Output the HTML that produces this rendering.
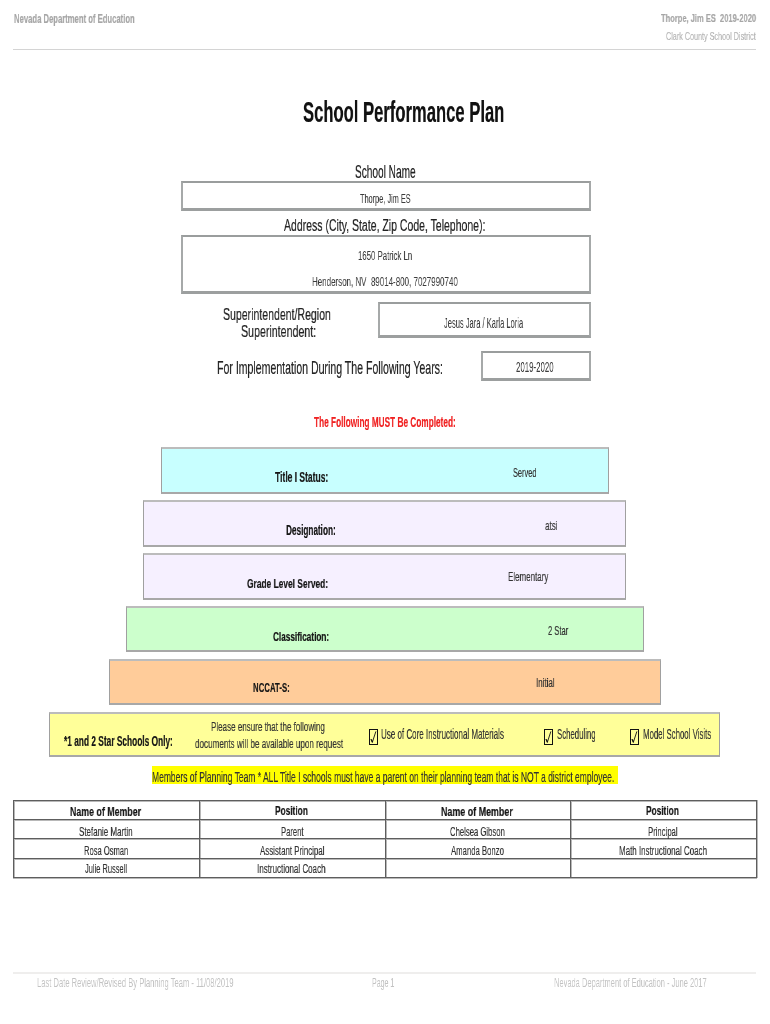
<!DOCTYPE html>
<html><head><meta charset="utf-8"><title>School Performance Plan</title><style>
*{margin:0;padding:0;box-sizing:border-box}
html,body{width:770px;height:1024px;background:#fff;overflow:hidden;position:relative}
body{font-family:"Liberation Sans",sans-serif}
.t{position:absolute;white-space:nowrap;transform-origin:0 0;line-height:normal;will-change:transform;-webkit-text-stroke:0.2px currentColor}
.b{position:absolute}
</style></head>
<body>
<div class="b" style="left:13px;top:49px;width:743px;height:1px;background:#d4d4d4"></div><div class="b" style="left:13px;top:972px;width:743px;height:2px;background:#efeeed"></div><div class="b" style="left:181px;top:181px;width:410px;height:30px;background:#fff;border:2px solid #9a9d9d;border-bottom:3px solid #9c9f9f;border-left-color:#a6a9a9;border-right-color:#a6a9a9"></div><div class="b" style="left:181px;top:235px;width:410px;height:59px;background:#fff;border:2px solid #9a9d9d;border-bottom:3px solid #9c9f9f;border-left-color:#a6a9a9;border-right-color:#a6a9a9"></div><div class="b" style="left:378px;top:302px;width:213px;height:36px;background:#fff;border:2px solid #9a9d9d;border-bottom:3px solid #9c9f9f;border-left-color:#a6a9a9;border-right-color:#a6a9a9"></div><div class="b" style="left:481px;top:351px;width:110px;height:30px;background:#fff;border:2px solid #9a9d9d;border-bottom:3px solid #9c9f9f;border-left-color:#a6a9a9;border-right-color:#a6a9a9"></div><div class="b" style="left:161px;top:447px;width:448px;height:47px;background:#c8ffff;border:1px solid #a0a0a0;border-top:2px solid #bcbcbc;border-bottom:2px solid #a8a8a8"></div><div class="b" style="left:143px;top:500px;width:483px;height:47px;background:#f6f0ff;border:1px solid #a0a0a0;border-top:2px solid #bcbcbc;border-bottom:2px solid #a8a8a8"></div><div class="b" style="left:143px;top:553px;width:483px;height:47px;background:#f6f0ff;border:1px solid #a0a0a0;border-top:2px solid #bcbcbc;border-bottom:2px solid #a8a8a8"></div><div class="b" style="left:126px;top:606px;width:518px;height:46px;background:#ccffcc;border:1px solid #a0a0a0;border-top:2px solid #bcbcbc;border-bottom:2px solid #a8a8a8"></div><div class="b" style="left:109px;top:659px;width:552px;height:46px;background:#ffcc9a;border:1px solid #a0a0a0;border-top:2px solid #bcbcbc;border-bottom:2px solid #a8a8a8"></div><div class="b" style="left:49px;top:712px;width:671px;height:45px;background:#ffff99;border:1px solid #a0a0a0;border-top:2px solid #bcbcbc;border-bottom:2px solid #a8a8a8"></div><div class="b" style="left:152px;top:766px;width:466px;height:18px;background:#ffff00"></div><div class="b" style="left:369px;top:729px;width:9px;height:16px;border:1.3px solid #111"></div><svg class="b" style="left:369px;top:729px" width="9" height="16" viewBox="0 0 9 16"><path d="M1.9 10.4 L3.3 13.4 L6.9 2.4" fill="none" stroke="#111" stroke-width="0.9"/><path d="M1.6 10.6 L2.6 10.0 L3.9 12.2 L3.4 13.8 Z" fill="#111"/></svg><div class="b" style="left:544px;top:729px;width:9px;height:16px;border:1.3px solid #111"></div><svg class="b" style="left:544px;top:729px" width="9" height="16" viewBox="0 0 9 16"><path d="M1.9 10.4 L3.3 13.4 L6.9 2.4" fill="none" stroke="#111" stroke-width="0.9"/><path d="M1.6 10.6 L2.6 10.0 L3.9 12.2 L3.4 13.8 Z" fill="#111"/></svg><div class="b" style="left:630px;top:729px;width:9px;height:16px;border:1.3px solid #111"></div><svg class="b" style="left:630px;top:729px" width="9" height="16" viewBox="0 0 9 16"><path d="M1.9 10.4 L3.3 13.4 L6.9 2.4" fill="none" stroke="#111" stroke-width="0.9"/><path d="M1.6 10.6 L2.6 10.0 L3.9 12.2 L3.4 13.8 Z" fill="#111"/></svg><div class="b" style="left:13px;top:801px;width:744px;height:1px;background:#b8b8b8"></div><div class="b" style="left:13px;top:820px;width:744px;height:1px;background:#b8b8b8"></div><div class="b" style="left:13px;top:839px;width:744px;height:1px;background:#b8b8b8"></div><div class="b" style="left:13px;top:859px;width:744px;height:1px;background:#b8b8b8"></div><div class="b" style="left:13px;top:878px;width:744px;height:1px;background:#b8b8b8"></div><div class="b" style="left:14px;top:800px;width:1px;height:78px;background:#b8b8b8"></div><div class="b" style="left:200px;top:800px;width:1px;height:78px;background:#b8b8b8"></div><div class="b" style="left:386px;top:800px;width:1px;height:78px;background:#b8b8b8"></div><div class="b" style="left:571px;top:800px;width:1px;height:78px;background:#b8b8b8"></div><div class="b" style="left:757px;top:800px;width:1px;height:78px;background:#b8b8b8"></div><div class="b" style="left:13px;top:800px;width:744px;height:1px;background:#5e5e5e"></div><div class="b" style="left:13px;top:819px;width:744px;height:1px;background:#5e5e5e"></div><div class="b" style="left:13px;top:838px;width:744px;height:1px;background:#5e5e5e"></div><div class="b" style="left:13px;top:858px;width:744px;height:1px;background:#5e5e5e"></div><div class="b" style="left:13px;top:877px;width:744px;height:1px;background:#5e5e5e"></div><div class="b" style="left:13px;top:800px;width:1px;height:78px;background:#5e5e5e"></div><div class="b" style="left:199px;top:800px;width:1px;height:78px;background:#5e5e5e"></div><div class="b" style="left:385px;top:800px;width:1px;height:78px;background:#5e5e5e"></div><div class="b" style="left:570px;top:800px;width:1px;height:78px;background:#5e5e5e"></div><div class="b" style="left:756px;top:800px;width:1px;height:78px;background:#5e5e5e"></div>
<div class="t" style="left:13.80px;top:11.88px;font-size:12.06px;font-weight:bold;color:#a6a6a6;transform:scaleX(0.6373)">Nevada Department of Education</div>
<div class="t" style="left:660.90px;top:12.11px;font-size:11.48px;font-weight:bold;color:#a6a6a6;transform:scaleX(0.6572)">Thorpe, Jim ES  2019-2020</div>
<div class="t" style="left:666.30px;top:28.95px;font-size:11.77px;font-weight:normal;color:#b4b4b4;transform:scaleX(0.6126)">Clark County School District</div>
<div class="t" style="left:302.80px;top:96.25px;font-size:28.78px;font-weight:bold;color:#111;transform:scaleX(0.5776)">School Performance Plan</div>
<div class="t" style="left:355.00px;top:161.52px;font-size:17.88px;font-weight:normal;color:#222;transform:scaleX(0.5654)">School Name</div>
<div class="t" style="left:359.90px;top:190.69px;font-size:12.94px;font-weight:normal;color:#3c3c3c;transform:scaleX(0.5677);-webkit-text-stroke:0.05px">Thorpe, Jim ES</div>
<div class="t" style="left:283.70px;top:214.65px;font-size:17.30px;font-weight:normal;color:#222;transform:scaleX(0.6072)">Address (City, State, Zip Code, Telephone):</div>
<div class="t" style="left:358.30px;top:248.44px;font-size:13.66px;font-weight:normal;color:#3c3c3c;transform:scaleX(0.5708);-webkit-text-stroke:0.05px">1650 Patrick Ln</div>
<div class="t" style="left:312.10px;top:273.59px;font-size:12.94px;font-weight:normal;color:#3c3c3c;transform:scaleX(0.6161);-webkit-text-stroke:0.05px">Henderson, NV  89014-800, 7027990740</div>
<div class="t" style="left:223.10px;top:305.10px;font-size:16.13px;font-weight:normal;color:#222;transform:scaleX(0.6544)">Superintendent/Region</div>
<div class="t" style="left:241.10px;top:322.27px;font-size:16.28px;font-weight:normal;color:#222;transform:scaleX(0.6543)">Superintendent:</div>
<div class="t" style="left:216.80px;top:357.03px;font-size:18.31px;font-weight:normal;color:#222;transform:scaleX(0.5774)">For Implementation During The Following Years:</div>
<div class="t" style="left:444.30px;top:314.54px;font-size:14.10px;font-weight:normal;color:#3c3c3c;transform:scaleX(0.5345);-webkit-text-stroke:0.05px">Jesus Jara / Karla Loria</div>
<div class="t" style="left:515.80px;top:358.19px;font-size:15.26px;font-weight:normal;color:#3c3c3c;transform:scaleX(0.5154);-webkit-text-stroke:0.05px">2019-2020</div>
<div class="t" style="left:313.50px;top:414.21px;font-size:14.24px;font-weight:bold;color:#f02020;transform:scaleX(0.5800)">The Following MUST Be Completed:</div>
<div class="t" style="left:274.60px;top:469.41px;font-size:14.24px;font-weight:bold;color:#151515;transform:scaleX(0.5977)">Title I Status:</div>
<div class="t" style="left:512.50px;top:465.69px;font-size:12.50px;font-weight:normal;color:#333;transform:scaleX(0.5905)">Served</div>
<div class="t" style="left:286.30px;top:522.11px;font-size:14.24px;font-weight:bold;color:#151515;transform:scaleX(0.5774)">Designation:</div>
<div class="t" style="left:545.30px;top:518.68px;font-size:12.06px;font-weight:normal;color:#333;transform:scaleX(0.6717)">atsi</div>
<div class="t" style="left:247.10px;top:576.03px;font-size:13.23px;font-weight:bold;color:#151515;transform:scaleX(0.6341)">Grade Level Served:</div>
<div class="t" style="left:507.50px;top:570.49px;font-size:12.50px;font-weight:normal;color:#333;transform:scaleX(0.6372)">Elementary</div>
<div class="t" style="left:272.70px;top:628.73px;font-size:13.23px;font-weight:bold;color:#151515;transform:scaleX(0.6205)">Classification:</div>
<div class="t" style="left:547.70px;top:622.69px;font-size:12.94px;font-weight:normal;color:#333;transform:scaleX(0.5848)">2 Star</div>
<div class="t" style="left:252.90px;top:680.40px;font-size:13.37px;font-weight:bold;color:#151515;transform:scaleX(0.5849)">NCCAT-S:</div>
<div class="t" style="left:536.20px;top:674.77px;font-size:13.52px;font-weight:normal;color:#333;transform:scaleX(0.5893)">Initial</div>
<div class="t" style="left:63.80px;top:732.80px;font-size:13.81px;font-weight:bold;color:#151515;transform:scaleX(0.6039)">*1 and 2 Star Schools Only:</div>
<div class="t" style="left:210.90px;top:719.99px;font-size:12.50px;font-weight:normal;color:#333;transform:scaleX(0.6423)">Please ensure that the following</div>
<div class="t" style="left:194.60px;top:737.35px;font-size:12.21px;font-weight:normal;color:#333;transform:scaleX(0.6637)">documents will be available upon request</div>
<div class="t" style="left:381.30px;top:725.94px;font-size:14.10px;font-weight:normal;color:#333;transform:scaleX(0.5683)">Use of Core Instructional Materials</div>
<div class="t" style="left:556.80px;top:725.94px;font-size:14.10px;font-weight:normal;color:#333;transform:scaleX(0.5531)">Scheduling</div>
<div class="t" style="left:642.70px;top:726.20px;font-size:13.81px;font-weight:normal;color:#333;transform:scaleX(0.5671)">Model School Visits</div>
<div class="t" style="left:152.20px;top:769.41px;font-size:14.68px;font-weight:normal;color:#333;transform:scaleX(0.5798)">Members of Planning Team * ALL Title I schools must have a parent on their planning team that is NOT a district employee.</div>
<div class="t" style="left:70.40px;top:803.79px;font-size:12.94px;font-weight:bold;color:#151515;transform:scaleX(0.6819)">Name of Member</div>
<div class="t" style="left:275.40px;top:804.32px;font-size:12.35px;font-weight:bold;color:#151515;transform:scaleX(0.6750)">Position</div>
<div class="t" style="left:441.30px;top:803.79px;font-size:12.94px;font-weight:bold;color:#151515;transform:scaleX(0.6886)">Name of Member</div>
<div class="t" style="left:646.20px;top:804.32px;font-size:12.35px;font-weight:bold;color:#151515;transform:scaleX(0.6750)">Position</div>
<div class="t" style="left:79.10px;top:823.60px;font-size:13.37px;font-weight:normal;color:#333;transform:scaleX(0.5960)">Stefanie Martin</div>
<div class="t" style="left:280.80px;top:823.60px;font-size:13.37px;font-weight:normal;color:#333;transform:scaleX(0.5713)">Parent</div>
<div class="t" style="left:450.00px;top:823.60px;font-size:13.37px;font-weight:normal;color:#333;transform:scaleX(0.5760)">Chelsea Gibson</div>
<div class="t" style="left:648.10px;top:823.60px;font-size:13.37px;font-weight:normal;color:#333;transform:scaleX(0.5772)">Principal</div>
<div class="t" style="left:83.70px;top:842.96px;font-size:13.08px;font-weight:normal;color:#333;transform:scaleX(0.5791)">Rosa Osman</div>
<div class="t" style="left:259.50px;top:842.96px;font-size:13.08px;font-weight:normal;color:#333;transform:scaleX(0.6026)">Assistant Principal</div>
<div class="t" style="left:450.80px;top:842.96px;font-size:13.08px;font-weight:normal;color:#333;transform:scaleX(0.5912)">Amanda Bonzo</div>
<div class="t" style="left:618.90px;top:842.96px;font-size:13.08px;font-weight:normal;color:#333;transform:scaleX(0.6082)">Math Instructional Coach</div>
<div class="t" style="left:85.00px;top:860.86px;font-size:13.08px;font-weight:normal;color:#333;transform:scaleX(0.5718)">Julie Russell</div>
<div class="t" style="left:257.20px;top:860.86px;font-size:13.08px;font-weight:normal;color:#333;transform:scaleX(0.6117)">Instructional Coach</div>
<div class="t" style="left:36.90px;top:975.16px;font-size:13.08px;font-weight:normal;color:#c2c2c2;transform:scaleX(0.5808);-webkit-text-stroke:0px">Last Date Review/Revised By Planning Team - 11/08/2019</div>
<div class="t" style="left:372.10px;top:974.89px;font-size:12.94px;font-weight:normal;color:#c2c2c2;transform:scaleX(0.5438);-webkit-text-stroke:0px">Page 1</div>
<div class="t" style="left:553.70px;top:975.06px;font-size:13.08px;font-weight:normal;color:#c2c2c2;transform:scaleX(0.5738);-webkit-text-stroke:0px">Nevada Department of Education - June 2017</div>
</body></html>
